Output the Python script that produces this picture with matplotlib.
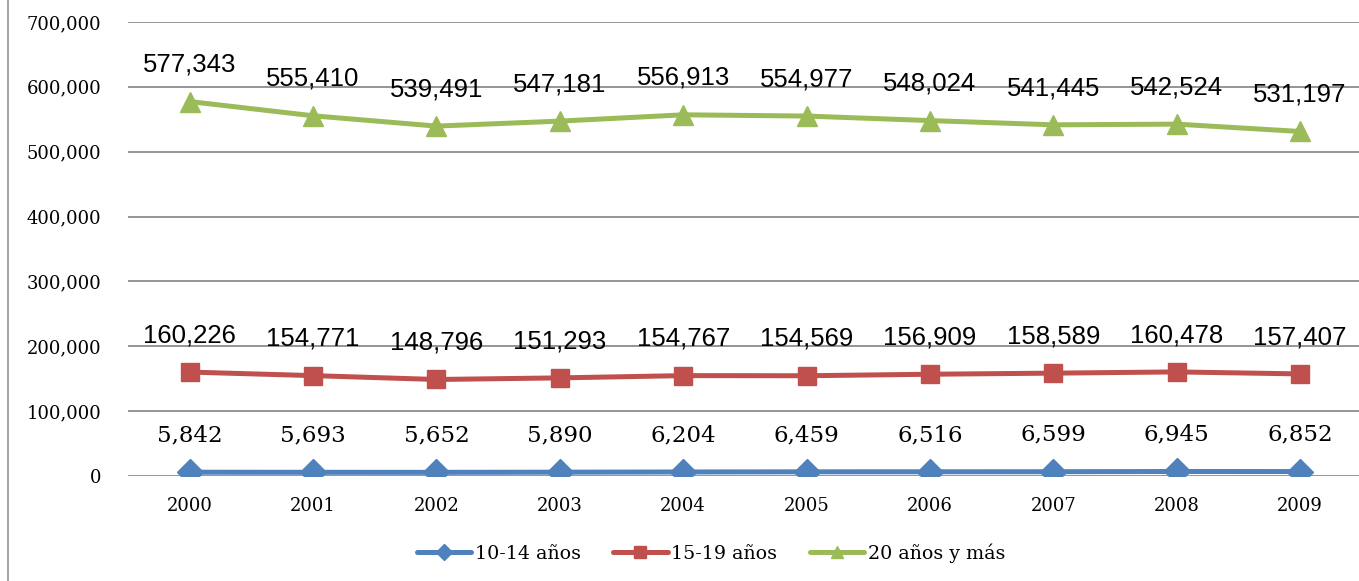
import matplotlib
matplotlib.use("Agg")
import matplotlib.pyplot as plt
from matplotlib.lines import Line2D

# datos
years = ["2000", "2001", "2002", "2003", "2004", "2005", "2006", "2007", "2008", "2009"]
g10_14 = [5842, 5693, 5652, 5890, 6204, 6459, 6516, 6599, 6945, 6852]
g15_19 = [160226, 154771, 148796, 151293, 154767, 154569, 156909, 158589, 160478, 157407]
g20_mas = [577343, 555410, 539491, 547181, 556913, 554977, 548024, 541445, 542524, 531197]
series_names = ["10-14 años", "15-19 años", "20 años y más"]
y_ticks = [0, 100000, 200000, 300000, 400000, 500000, 600000, 700000]

SERIF = "DejaVu Serif"
SANS = "Liberation Sans"

fig = plt.figure(figsize=(13.59, 5.81), dpi=100)
ax = fig.add_axes([128 / 1359, 1 - 476 / 581, 1 - 128 / 1359 + 0.002, (476 - 22) / 581])

x = list(range(len(years)))
styles = [
    (g10_14, "#4F81BD", "D", 13, SERIF, 16.5),
    (g15_19, "#C0504D", "s", 13, SANS, 18.5),
    (g20_mas, "#9BBB59", "^", 15, SANS, 18.5),
]

handles = []
for (vals, color, mk, ms, fam, fs), name in zip(styles, series_names):
    ax.plot(x, vals, color=color, lw=3.6, marker=mk, ms=ms, zorder=3,
            solid_capstyle="round")
    for xi, v in zip(x, vals):
        ax.annotate(f"{v:,}", (xi, v), xytext=(0, 26.5), textcoords="offset points",
                    ha="center", va="center", fontsize=fs, family=fam, color="black")
    handles.append(Line2D([], [], color=color, lw=3.6, marker=mk, ms=8,
                          solid_capstyle="round"))

ax.set_xlim(-0.5, len(years) - 0.5)
ax.set_ylim(0, 700000)
ax.set_yticks(y_ticks)
ax.set_yticklabels([f"{t:,}" for t in y_ticks], family=SERIF, fontsize=13)
ax.set_xticks(x)
ax.set_xticklabels(years, family=SERIF, fontsize=13)
ax.tick_params(axis="y", length=0, pad=19)
ax.tick_params(axis="x", length=0, pad=15)
for s in ax.spines.values():
    s.set_visible(False)
ax.grid(axis="y", color="#8C8C8C", lw=1.3)
ax.set_axisbelow(True)

fig.legend(handles, series_names, loc="center", bbox_to_anchor=(711 / 1359, 1 - 553 / 581),
           ncol=3, frameon=False, prop={"family": SERIF, "size": 13.7},
           handlelength=2.85, handletextpad=0.2, columnspacing=1.7)

# marco izquierdo
fig.add_artist(Line2D([8 / 1359, 8 / 1359], [0, 1], color="#A6A6A6", lw=1.5))

fig.savefig("out.png", dpi=100)
